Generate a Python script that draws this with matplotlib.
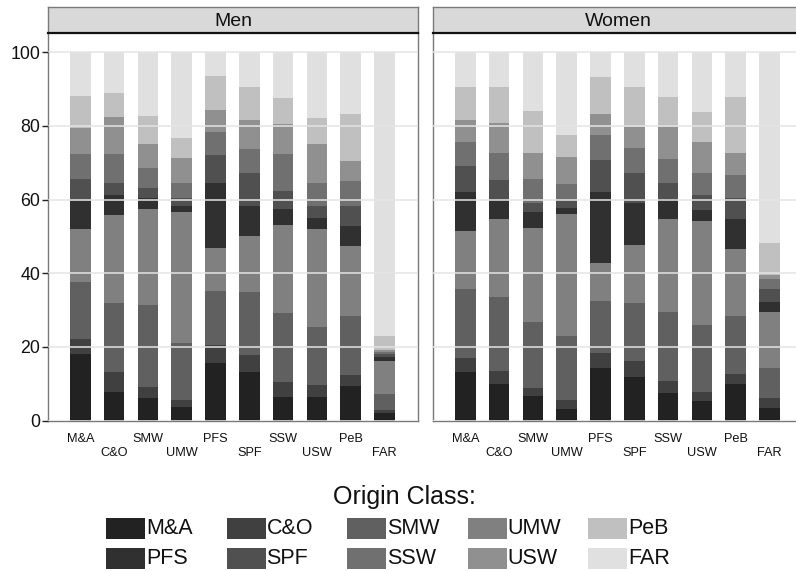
"""Stacked bars of origin-class composition by destination class, men vs women."""
import matplotlib

matplotlib.use("Agg")
import matplotlib.pyplot as plt
import numpy as np
from matplotlib.patches import Rectangle

plt.rcParams["font.family"] = ["Liberation Sans", "DejaVu Sans"]

# destination classes along the x axis
classes = ["M&A", "C&O", "SMW", "UMW", "PFS", "SPF", "SSW", "USW", "PeB", "FAR"]

# origin classes in stacking order (bottom to top) and their fills
origins = ["M&A", "C&O", "SMW", "UMW", "PFS", "SPF", "SSW", "USW", "PeB", "FAR"]
origin_colors = ["#222222", "#404040", "#606060", "#808080", "#303030",
                 "#505050", "#707070", "#909090", "#c0c0c0", "#e0e0e0"]

# legend layout: two rows of five, as printed
legend_rows = [["M&A", "C&O", "SMW", "UMW", "PeB"],
               ["PFS", "SPF", "SSW", "USW", "FAR"]]

# percent of each destination class coming from each origin class
# rows = destination class, columns = origin class (stacking order)
men = [
    [18.0, 4.2, 15.4, 14.5, 7.4, 6.1, 6.7, 7.1, 8.8, 11.8],
    [7.7, 5.4, 18.8, 23.9, 5.5, 3.3, 7.7, 10.0, 6.7, 11.0],
    [6.2, 2.9, 22.4, 26.0, 2.9, 2.8, 5.4, 6.4, 7.8, 17.2],
    [3.7, 1.9, 15.5, 35.5, 1.7, 2.1, 4.0, 6.9, 5.4, 23.3],
    [15.6, 4.9, 14.7, 11.6, 17.6, 7.7, 6.3, 5.9, 9.1, 6.6],
    [13.3, 4.4, 17.2, 15.1, 8.3, 8.9, 6.6, 7.8, 8.9, 9.5],
    [6.4, 4.0, 18.9, 23.8, 4.4, 4.7, 10.1, 8.3, 6.9, 12.5],
    [6.4, 3.3, 15.7, 26.7, 3.0, 3.2, 6.3, 10.4, 7.2, 17.8],
    [9.4, 3.0, 16.0, 19.1, 5.4, 5.4, 6.7, 5.6, 12.7, 16.7],
    [2.0, 0.9, 4.3, 9.1, 1.1, 0.6, 0.6, 0.6, 3.8, 77.0],
]
women = [
    [13.2, 3.7, 18.8, 15.9, 10.4, 7.1, 6.6, 5.9, 9.0, 9.4],
    [10.0, 3.5, 20.2, 20.9, 5.3, 5.4, 7.3, 8.3, 9.6, 9.5],
    [6.7, 2.1, 18.0, 25.5, 4.4, 2.5, 6.4, 7.1, 11.4, 15.9],
    [3.3, 2.3, 17.4, 33.1, 1.5, 2.3, 4.4, 7.3, 5.8, 22.6],
    [14.4, 4.1, 14.0, 10.3, 19.2, 8.8, 6.7, 5.7, 10.0, 6.8],
    [11.9, 4.3, 15.7, 15.8, 11.3, 8.2, 6.7, 5.9, 10.8, 9.4],
    [7.4, 3.4, 18.7, 25.3, 5.4, 4.2, 6.6, 8.7, 8.1, 12.2],
    [5.3, 2.6, 18.2, 28.2, 2.9, 4.1, 5.9, 8.3, 8.3, 16.2],
    [10.0, 2.6, 15.8, 18.3, 8.0, 5.8, 6.2, 6.0, 15.1, 12.2],
    [3.4, 2.8, 8.1, 15.2, 2.7, 3.6, 2.7, 0.9, 8.8, 51.8],
]

W, H = 796, 571


def px(left, top, right, bottom):
    """Figure-fraction rect from pixel edges (top-left origin)."""
    return [left / W, 1 - bottom / H, (right - left) / W, (bottom - top) / H]


def panel(fig, left, title, data, show_y):
    right = left + 370
    ax = fig.add_axes(px(left, 33, right, 420.7))
    strip = fig.add_axes(px(left, 7, right, 33))

    vals = np.array(data)
    x = np.arange(1, len(classes) + 1)
    bottom = np.zeros(len(classes))
    for j, col in enumerate(origin_colors):
        ax.bar(x, vals[:, j], bottom=bottom, width=0.61, color=col,
               linewidth=0, zorder=1)
        bottom += vals[:, j]

    ax.set_xlim(0.044, 10.99)
    ax.set_ylim(0, 105.2)
    ax.set_yticks(np.arange(0, 101, 20))
    ax.grid(axis="y", color="#e4e4e4", linewidth=1.1, zorder=3)
    ax.set_axisbelow(False)
    for s in ax.spines.values():
        s.set_color("#7a7a7a")
        s.set_linewidth(1.0)
    ax.spines["top"].set_visible(False)

    ax.set_xticks(x, classes, fontsize=9.2, color="#111111")
    ax.tick_params(axis="x", length=0)
    for i, t in enumerate(ax.xaxis.get_major_ticks()):
        t.set_pad(9.0 if i % 2 == 0 else 18.8)

    if show_y:
        ax.tick_params(axis="y", length=4, width=1, color="#222222",
                       labelsize=12.8, pad=1.5, labelcolor="#111111")
    else:
        ax.tick_params(axis="y", length=0, labelleft=False)

    strip.set_facecolor("#d9d9d9")
    strip.set_xticks([])
    strip.set_yticks([])
    for s in strip.spines.values():
        s.set_color("#7a7a7a")
        s.set_linewidth(1.0)
    strip.spines["bottom"].set_color("#111111")
    strip.spines["bottom"].set_linewidth(1.6)
    strip.text(0.5, 0.45, title, ha="center", va="center", fontsize=14,
               color="#111111", transform=strip.transAxes)
    return ax


def main() -> None:
    fig = plt.figure(figsize=(W / 100, H / 100), dpi=100, facecolor="white")

    panel(fig, 48, "Men", men, True)
    panel(fig, 433, "Women", women, False)

    # legend: title plus two rows of swatches
    fig.text(404 / W, 1 - 497 / H, "Origin Class:", ha="center", va="center",
             fontsize=18, color="#111111")
    color_of = dict(zip(origins, origin_colors))
    col_left = [106, 226.5, 347, 467.5, 588]
    row_top = [517.5, 547.5]
    for r, row in enumerate(legend_rows):
        for c, name in enumerate(row):
            x0, y0 = col_left[c], row_top[r]
            fig.patches.append(Rectangle((x0 / W, 1 - (y0 + 21) / H), 39 / W, 21 / H,
                                         transform=fig.transFigure,
                                         facecolor=color_of[name], edgecolor="none"))
            fig.text((x0 + 40) / W, 1 - (y0 + 11) / H, name, ha="left", va="center",
                     fontsize=15.5, color="#111111")

    fig.savefig("out.png", dpi=100)


if __name__ == "__main__":
    main()
